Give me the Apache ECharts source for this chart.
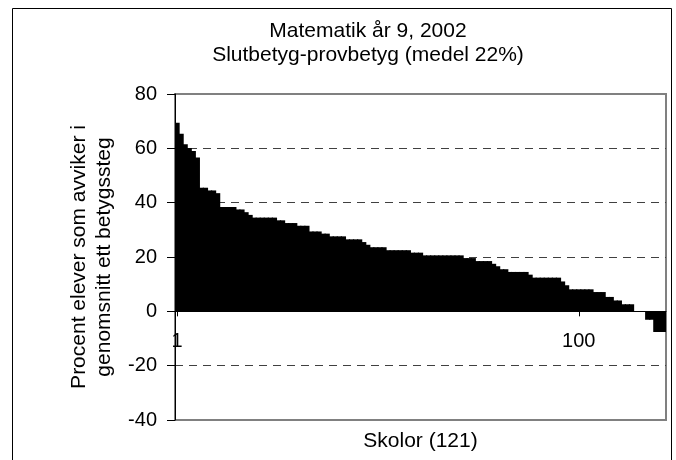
<!DOCTYPE html>
<html>
<head>
<meta charset="utf-8">
<script src="https://cdn.jsdelivr.net/npm/echarts@6/dist/echarts.min.js"></script>
<style>
html,body{margin:0;padding:0;background:#fff;}
#chart{width:676px;height:460px;}
</style>
</head>
<body>
<div id="chart"></div>
<script>
// Schools 1..121
const categories = Array.from({length: 121}, (_, i) => String(i + 1));

// Percent of pupils whose final grade deviates from test grade (sorted)
const values = [
  69.4, 65.4, 61.5, 60.1, 59.0, 56.6, 45.5, 45.5, 44.5, 44.5,
  43.5, 38.4, 38.4, 38.4, 38.4, 37.5, 37.5, 36.5, 35.5, 34.5,
  34.5, 34.5, 34.5, 34.5, 34.5, 33.5, 33.5, 32.5, 32.5, 32.5,
  31.5, 31.5, 31.5, 29.4, 29.4, 29.4, 28.6, 28.6, 27.6, 27.6,
  27.6, 27.6, 26.5, 26.5, 26.5, 26.5, 25.5, 24.5, 23.6, 23.6,
  23.6, 23.6, 22.5, 22.5, 22.5, 22.5, 22.5, 22.5, 21.6, 21.6,
  21.6, 20.6, 20.6, 20.6, 20.6, 20.6, 20.6, 20.6, 20.6, 20.6,
  20.6, 19.6, 19.6, 19.6, 18.5, 18.5, 18.5, 18.5, 17.5, 16.6,
  15.5, 15.5, 14.5, 14.5, 14.5, 14.5, 14.5, 13.5, 12.4, 12.4,
  12.4, 12.4, 12.4, 12.4, 12.4, 11.0, 9.6, 8.1, 8.1, 8.1,
  8.1, 8.1, 8.1, 7.1, 7.1, 7.1, 5.3, 5.3, 4.0, 4.0,
  2.6, 2.6, 2.6, 0, 0, 0, -3.1, -3.1, -7.6, -7.6,
  -7.6
];

// Categories that get a label ("1" and "100")
const labeledCategories = ['1', '100'];

// Value axis range
const yMin = -40, yMax = 80, yStep = 20;

const titleLines = ['Matematik år 9, 2002', 'Slutbetyg-provbetyg (medel 22%)'];
const yAxisName = ['Procent elever som avviker i', 'genomsnitt ett betygssteg'];
const xAxisName = 'Skolor (121)';

const FONT = '"Liberation Sans", Arial, sans-serif';

const GRID_TOP = 94, GRID_BOTTOM = 40, H = 460;
const gridHeight = H - GRID_TOP - GRID_BOTTOM;
// move the category axis up to the value 0 (crossing point)
const zeroOffset = -((0 - yMin) / (yMax - yMin)) * gridHeight;

const chart = echarts.init(document.getElementById('chart'), null, {renderer: 'canvas'});
chart.setOption({
  animation: false,
  backgroundColor: '#ffffff',
  title: {
    text: titleLines.join('\n'),
    left: 363,
    textAlign: 'center',
    top: 14,
    textStyle: {fontFamily: FONT, fontSize: 21, fontWeight: 'normal', color: '#000', lineHeight: 24}
  },
  graphic: [{
    type: 'rect',
    shape: {x: 12.5, y: 8.5, width: 659, height: 470},
    style: {fill: null, stroke: '#000', lineWidth: 1},
    silent: true,
    z: -1
  }],
  grid: {
    left: 175, right: 10, top: GRID_TOP, bottom: GRID_BOTTOM,
    outerBoundsMode: 'none',
    containLabel: false,
    show: true, borderColor: '#808080', borderWidth: 2, backgroundColor: 'transparent'
  },
  xAxis: {
    type: 'category',
    data: categories,
    position: 'bottom',
    offset: zeroOffset,
    name: xAxisName,
    nameLocation: 'middle',
    nameGap: 119,
    nameTextStyle: {fontFamily: FONT, fontSize: 21, color: '#000'},
    axisLine: {show: true, onZero: false, lineStyle: {color: '#000', width: 1}},
    axisTick: {
      show: true, alignWithLabel: true, length: 5,
      interval: (i, v) => labeledCategories.indexOf(v) >= 0,
      lineStyle: {color: '#000'}
    },
    axisLabel: {
      interval: (i, v) => labeledCategories.indexOf(v) >= 0,
      fontFamily: FONT, fontSize: 20, color: '#000', margin: 20
    },
    splitLine: {show: false},
    z: 5
  },
  yAxis: {
    type: 'value',
    min: yMin, max: yMax, interval: yStep,
    name: yAxisName.join('\n'),
    nameLocation: 'middle',
    nameRotate: 90,
    nameGap: 58,
    nameTextStyle: {fontFamily: FONT, fontSize: 21, color: '#000', lineHeight: 25},
    axisLine: {show: true, lineStyle: {color: '#000', width: 1}},
    axisTick: {show: true, length: 8, lineStyle: {color: '#000'}},
    axisLabel: {fontFamily: FONT, fontSize: 20, color: '#000', margin: 18},
    splitLine: {
      show: true,
      lineStyle: {color: '#404040', width: 1, type: [8, 6]},
      showMinLine: false, showMaxLine: false
    }
  },
  series: [{
    type: 'bar',
    data: values,
    barWidth: '130%',
    barMaxWidth: 20,
    itemStyle: {color: '#000'},
    silent: true
  }]
});
</script>
</body>
</html>
